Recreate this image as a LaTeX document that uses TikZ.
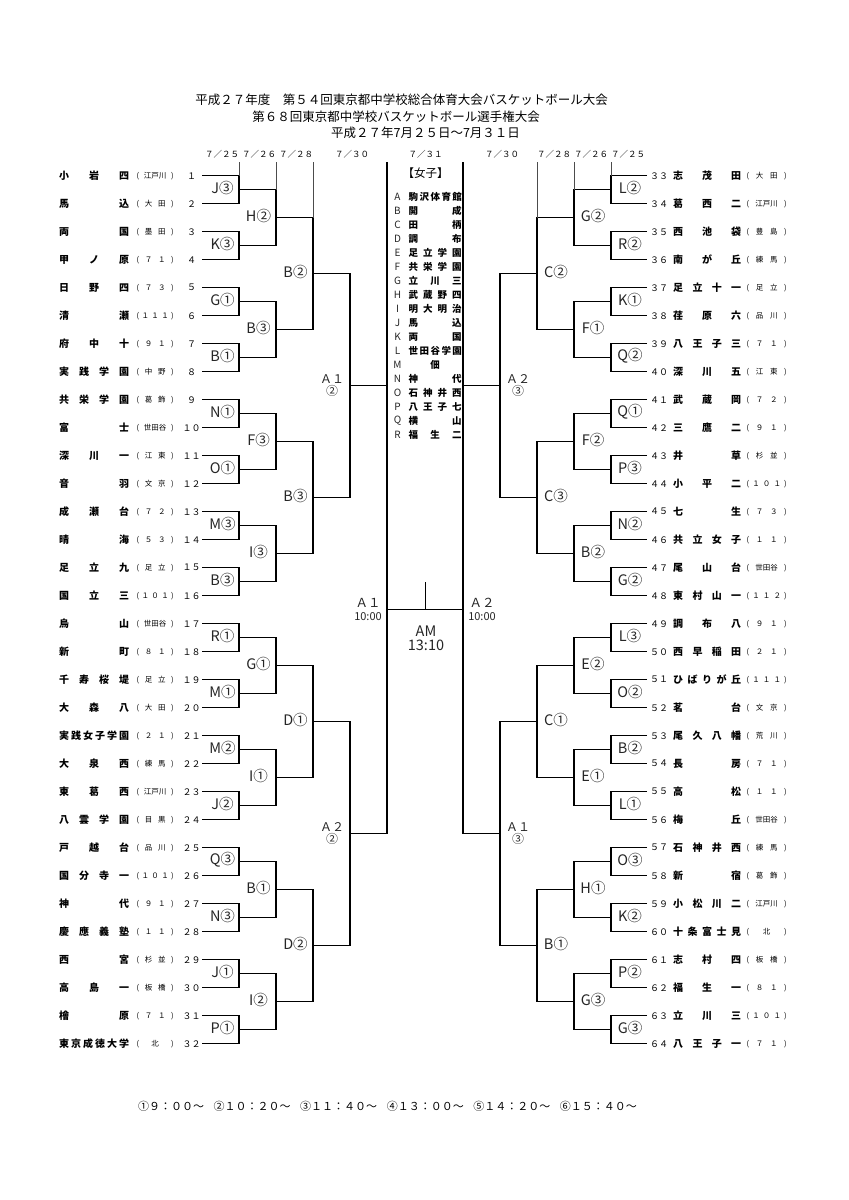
\documentclass[tikz,border=0pt]{standalone}
\usepackage{fontspec}
\setmainfont{Noto Sans CJK JP}
\usepackage{tikz}

\newcommand{\fwdigit}[1]{\ifcase#1\relax ０\or１\or２\or３\or４\or５\or６\or７\or８\or９\fi}
\newcommand{\teamno}[1]{\pgfmathtruncatemacro\tensval{#1/10}\pgfmathtruncatemacro\onesval{#1-10*\tensval}\ifnum\tensval>0 \fwdigit{\tensval}\fi\fwdigit{\onesval}}

\begin{document}
\begin{tikzpicture}[x=1pt,y=-1pt,
    bline/.style={line width=1.1pt},
    tick/.style={line width=0.6pt,black!70},
    team/.style={anchor=west,inner sep=0pt,font=\fontsize{10}{10}\selectfont\bfseries},
    dist/.style={anchor=west,inner sep=0pt,font=\fontsize{7.5}{7.5}\selectfont},
    teamnum/.style={inner sep=0pt,font=\fontsize{9}{9}\selectfont},
    rlabel/.style={inner sep=0pt,black!85,font=\fontsize{14.5}{14.5}\selectfont},
    flabel/.style={inner sep=0pt,black!85,align=center,font=\fontsize{12}{12.5}\selectfont},
    date/.style={inner sep=0pt,font=\fontsize{8.5}{8.5}\selectfont},
    title/.style={inner sep=0pt,font=\fontsize{12.5}{12.5}\selectfont},
    key/.style={inner sep=0pt,black!85,font=\fontsize{10}{10}\selectfont},
    keyname/.style={anchor=west,inner sep=0pt,font=\fontsize{9.5}{9.5}\selectfont\bfseries},
    ]
    % Page
    \fill[white] (0,0) rectangle (849,1200);
    \useasboundingbox (0,0) rectangle (849,1200);

    % Title
    \node[title] at (401.5,100) {平成２７年度　第５４回東京都中学校総合体育大会バスケットボール大会};
    \node[title] at (396,117) {第６８回東京都中学校バスケットボール選手権大会};
    \node[title] at (425.5,133) {平成２７年7月２５日～7月３１日};

    % Dates
    \foreach \d/\x in {７／２５/222, ７／２６/259, ７／２８/296, ７／３０/352, ７／３１/425.5,
                       ７／３０/502, ７／２８/554, ７／２６/591, ７／２５/628}
        \node[date] at (\x,154) {\d};

    % Left side teams
    \foreach \nm/\ds [count=\k] in {{小 岩 四}/{江戸川}, {馬 込}/{大 田}, {両 国}/{墨 田}, {甲 ノ 原}/{７ １},
        {日 野 四}/{７ ３}, {清 瀬}/{１ １ １}, {府 中 十}/{９ １}, {実 践 学 園}/{中 野},
        {共 栄 学 園}/{葛 飾}, {富 士}/{世田谷}, {深 川 一}/{江 東}, {音 羽}/{文 京},
        {成 瀬 台}/{７ ２}, {晴 海}/{５ ３}, {足 立 九}/{足 立}, {国 立 三}/{１ ０ １},
        {烏 山}/{世田谷}, {新 町}/{８ １}, {千 寿 桜 堤}/{足 立}, {大 森 八}/{大 田},
        {実 践 女 子 学 園}/{２ １}, {大 泉 西}/{練 馬}, {東 葛 西}/{江戸川}, {八 雲 学 園}/{目 黒},
        {戸 越 台}/{品 川}, {国 分 寺 一}/{１ ０ １}, {神 代}/{９ １}, {慶 應 義 塾}/{１ １},
        {西 宮}/{杉 並}, {高 島 一}/{板 橋}, {檜 原}/{７ １}, {東 京 成 徳 大 学}/{北}}{
        \pgfmathsetmacro\y{175.7+(\k-1)*28}
        \node[team] (L\k) at (59,\y) {\makebox[70pt][s]{\nm}};
        \node[dist] at (136.5,\y) {\makebox[37pt][s]{( \ds\ )}};
        \node[teamnum] at (191.5,\y) {\teamno{\k}};
    }

    % Right side teams
    \foreach \nm/\ds [count=\k from 33] in {{志 茂 田}/{大 田}, {葛 西 二}/{江戸川}, {西 池 袋}/{豊 島}, {南 が 丘}/{練 馬},
        {足 立 十 一}/{足 立}, {荏 原 六}/{品 川}, {八 王 子 三}/{７ １}, {深 川 五}/{江 東},
        {武 蔵 岡}/{７ ２}, {三 鷹 二}/{９ １}, {井 草}/{杉 並}, {小 平 二}/{１ ０ １},
        {七 生}/{７ ３}, {共 立 女 子}/{１ １}, {尾 山 台}/{世田谷}, {東 村 山 一}/{１ １ ２},
        {調 布 八}/{９ １}, {西 早 稲 田}/{２ １}, {ひ ば り が 丘}/{１ １ １}, {茗 台}/{文 京},
        {尾 久 八 幡}/{荒 川}, {長 房}/{７ １}, {高 松}/{１ １}, {梅 丘}/{世田谷},
        {石 神 井 西}/{練 馬}, {新 宿}/{葛 飾}, {小 松 川 二}/{江戸川}, {十 条 富 士 見}/{北},
        {志 村 四}/{板 橋}, {福 生 一}/{８ １}, {立 川 三}/{１ ０ １}, {八 王 子 一}/{７ １}}{
        \pgfmathsetmacro\y{175.7+(\k-33)*28}
        \node[teamnum] at (659,\y) {\teamno{\k}};
        \node[team] (R\k) at (673,\y) {\makebox[68pt][s]{\nm}};
        \node[dist] at (746.5,\y) {\makebox[40pt][s]{( \ds\ )}};
    }

    % Brackets
    \foreach \s/\xo/\xi in {1/202/239, -1/647/611}
        \foreach \L/\g in {1/2, 2/4, 3/8, 4/16, 5/32}{
            \pgfmathsetmacro\xa{\L==1 ? \xo : \xi+(\s)*(\L-2)*37}
            \pgfmathsetmacro\xb{\xi+(\s)*(\L-1)*37}
            \pgfmathsetmacro\h{\g/2}
            \pgfmathtruncatemacro\ng{32/\g-1}
            \foreach \j in {0,...,\ng}{
                \pgfmathsetmacro\yt{175.7+(\j*\g+(\h-1)/2)*28}
                \pgfmathsetmacro\yb{\yt+\h*28}
                \draw[bline] (\xa,\yt) -- (\xb,\yt) -- (\xb,\yb) -- (\xa,\yb);
            }
        }

    % Lines up to the dates
    \foreach \x/\yy in {239/175.7, 276/189.7, 313/217.7, 611/175.7, 574/189.7, 537/217.7}
        \draw[tick] (\x,162) -- (\x,\yy);
    \draw[bline] (387,162) -- (387,385.7);
    \draw[bline] (463,162) -- (463,385.7);

    % Round labels
    \foreach \lx/\g/\labs in {
        222.5/2/{J③,K③,G①,B①,N①,O①,M③,B③,R①,M①,M②,J②,Q③,N③,J①,P①},
        258.5/4/{H②,B③,F③,I③,G①,I①,B①,I②},
        295.5/8/{B②,B③,D①,D②},
        630/2/{L②,R②,K①,Q②,Q①,P③,N②,G②,L③,O②,B②,L①,O③,K②,P②,G③},
        593/4/{G②,F①,F②,B②,E②,E①,H①,G③},
        556/8/{C②,C③,C①,B①}}
        \foreach \lab [count=\j from 0] in \labs
            \node[rlabel] at (\lx,{175.7+(\j*\g+(\g-1)/2)*28-2}) {\lab};
    \node[flabel] at (332,385.7) {Ａ１\\②};
    \node[flabel] at (332,833.7) {Ａ２\\②};
    \node[flabel] at (518,385.7) {Ａ２\\③};
    \node[flabel] at (518,833.7) {Ａ１\\③};

    % Final
    \draw[bline] (387,609.7) -- (463,609.7);
    \draw[bline] (425.5,582) -- (425.5,609.7);
    \node[black!85,font=\fontsize{12.5}{12.5}\selectfont] at (368,603) {Ａ１};
    \node[black!85,font=\fontsize{11}{11}\selectfont] at (368,617) {10:00};
    \node[black!85,font=\fontsize{12.5}{12.5}\selectfont] at (482,603) {Ａ２};
    \node[black!85,font=\fontsize{11}{11}\selectfont] at (482,617) {10:00};
    \node[black!85,font=\fontsize{14.5}{14.5}\selectfont] at (426,631.5) {AM};
    \node[black!85,font=\fontsize{14.5}{14.5}\selectfont] at (426,645) {13:10};

    % Key of courts
    \node[font=\fontsize{11.5}{11.5}\selectfont] at (425.5,173) {【女子】};
    \foreach \ltr/\nm [count=\i from 0] in {A/{駒 沢 体 育 館}, B/{開 成}, C/{田 柄}, D/{調 布},
        E/{足 立 学 園}, F/{共 栄 学 園}, G/{立 川 三}, H/{武 蔵 野 四}, I/{明 大 明 治},
        J/{馬 込}, K/{両 国}, L/{世 田 谷 学 園}, M/{\hfill 佃\hfill}, N/{神 代},
        O/{石 神 井 西}, P/{八 王 子 七}, Q/{横 山}, R/{福 生 二}}{
        \node[key] at (397.5,197+14*\i) {\ltr};
        \node[keyname] at (408.5,197+14*\i) {\makebox[53pt][s]{\nm}};
    }

    % Times
    \node[font=\fontsize{11}{11}\selectfont] at (387.5,1106)
        {\makebox[499pt][s]{①９：００～ ②１０：２０～ ③１１：４０～ ④１３：００～ ⑤１４：２０～ ⑥１５：４０～}};
\end{tikzpicture}
\end{document}
